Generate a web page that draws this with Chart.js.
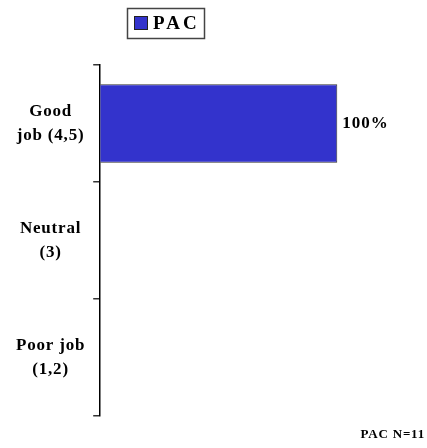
<!DOCTYPE html>
<html>
<head>
<meta charset="utf-8">
<script src="https://cdn.jsdelivr.net/npm/chart.js@4/dist/chart.umd.min.js"></script>
<style>
  html, body { margin: 0; padding: 0; background: #fff; }
  #wrap { width: 427px; height: 448px; }
</style>
</head>
<body>
<div id="wrap"><canvas id="chart"></canvas></div>
<script>
const categories = [['Good', 'job (4,5)'], ['Neutral', '(3)'], ['Poor job', '(1,2)']];
const seriesName = 'PAC';
const pacValues = [100, 0, 0];
const footnote = 'PAC N=11';
const X_MAX = 137;

const serif = '"Liberation Serif", "Times New Roman", serif';

// boxed legend drawn at top-left like the original
const boxLegend = {
    id: 'boxLegend',
    beforeUpdate(chart) {
        chart.ctx.letterSpacing = '0.8px';
    },
    afterDraw(chart) {
        const ctx = chart.ctx;
        const ds = chart.data.datasets[0];
        ctx.save();
        ctx.strokeStyle = '#444';
        ctx.lineWidth = 1.5;
        ctx.strokeRect(127.5, 8.5, 77, 30);
        ctx.fillStyle = ds.backgroundColor;
        ctx.fillRect(134, 16, 14, 14);
        ctx.strokeStyle = '#222';
        ctx.lineWidth = 1;
        ctx.strokeRect(134.5, 16.5, 13, 13);
        ctx.fillStyle = '#000';
        ctx.font = 'bold 19px ' + serif;
        ctx.letterSpacing = '3px';
        ctx.textBaseline = 'middle';
        ctx.textAlign = 'left';
        ctx.fillText(ds.label, 153, 24);
        ctx.restore();
    }
};

const valueLabels = {
    id: 'valueLabels',
    afterDatasetsDraw(chart) {
        const ctx = chart.ctx;
        const meta = chart.getDatasetMeta(0);
        ctx.save();
        ctx.fillStyle = '#000';
        ctx.font = 'bold 17px ' + serif;
        ctx.letterSpacing = '1px';
        ctx.textBaseline = 'middle';
        ctx.textAlign = 'left';
        meta.data.forEach((bar, i) => {
            const v = pacValues[i];
            if (v > 0) {
                ctx.fillText(v + '%', bar.x + 5, bar.y);
            }
        });
        ctx.restore();
    }
};

new Chart(document.getElementById('chart'), {
    type: 'bar',
    data: {
        labels: categories,
        datasets: [{
            label: seriesName,
            data: pacValues,
            backgroundColor: '#3333CC',
            borderColor: '#333333',
            borderWidth: 1,
            barPercentage: 0.67,
            categoryPercentage: 1.0
        }]
    },
    options: {
        indexAxis: 'y',
        responsive: true,
        maintainAspectRatio: false,
        animation: false,
        layout: {
            padding: { top: 65, left: 8, right: 2, bottom: 0 }
        },
        scales: {
            x: {
                display: false,
                min: 0,
                max: X_MAX
            },
            y: {
                offset: true,
                grid: {
                    display: true,
                    offset: true,
                    drawOnChartArea: false,
                    tickLength: 7,
                    color: '#333',
                    lineWidth: 1.5
                },
                border: { display: true, color: '#000', width: 1.5 },
                ticks: {
                    color: '#000',
                    crossAlign: 'center',
                    padding: 8,
                    font: { family: serif, size: 17, weight: 'bold', lineHeight: 1.4 }
                }
            }
        },
        plugins: {
            legend: { display: false },
            tooltip: { enabled: false },
            title: {
                display: true,
                text: footnote,
                position: 'bottom',
                align: 'end',
                color: '#000',
                font: { family: serif, size: 13, weight: 'bold' },
                padding: { top: 11, bottom: 4 }
            }
        }
    },
    plugins: [boxLegend, valueLabels]
});
</script>
</body>
</html>
